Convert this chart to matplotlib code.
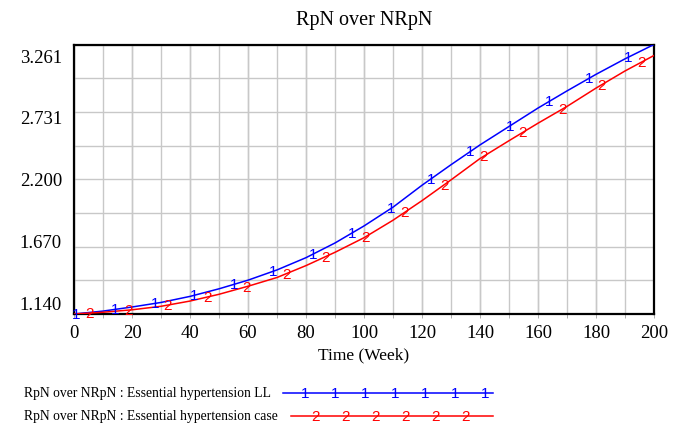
import numpy as np
import matplotlib.pyplot as plt
from matplotlib.lines import Line2D
from matplotlib.transforms import ScaledTranslation

# Simulation output, sampled every 10 weeks
weeks = np.arange(0, 201, 10)
rpn_ll = [1.140, 1.165, 1.200, 1.239, 1.291, 1.356, 1.430, 1.518, 1.623, 1.749, 1.895,
          2.056, 2.244, 2.420, 2.590, 2.748, 2.906, 3.053, 3.195, 3.328, 3.451]
rpn_case = [1.140, 1.155, 1.176, 1.206, 1.251, 1.309, 1.378, 1.453, 1.555, 1.669, 1.794,
            1.944, 2.112, 2.290, 2.473, 2.626, 2.776, 2.920, 3.077, 3.224, 3.357]

series_names = ["RpN over NRpN : Essential hypertension LL",
                "RpN over NRpN : Essential hypertension case"]
series_colors = ["#0000ff", "#ff0000"]
series_tags = ["1", "2"]

y_tick_values = [1.140, 1.670, 2.200, 2.731, 3.261]
y_tick_labels = ["1.140", "1.670", "2.200", "2.731", "3.261"]
x_tick_values = np.arange(0, 201, 20)

SERIF = "Liberation Serif"
SANS = "Liberation Sans"

W, H = 686, 431
fig = plt.figure(figsize=(W / 100, H / 100), dpi=100)
fig.patch.set_facecolor("white")
ax = fig.add_axes([74 / W, 1 - 315 / H, 580 / W, 269.5 / H])

y_lo, y_hi = min(rpn_ll + rpn_case), max(rpn_ll + rpn_case)
ax.set_xlim(0, 200)
ax.set_ylim(y_lo, y_hi)

# grid: every 10 weeks across, eight bands up the value axis
ax.set_xticks(x_tick_values)
ax.set_xticklabels([str(v) for v in x_tick_values], family=SERIF, fontsize=13.5)
ax.set_xticks(np.arange(0, 201, 10), minor=True)
ax.xaxis.remove_overlapping_locs = False
ax.set_yticks([])
ax.set_yticks(np.linspace(y_lo, y_hi, 9), minor=True)
ax.grid(which="both", axis="x", color="#c8c8c8", lw=1.0)
ax.grid(which="minor", axis="y", color="#c8c8c8", lw=1.0)
ax.tick_params(axis="x", which="major", length=0, pad=7)
ax.tick_params(axis="x", which="minor", length=3, color="#a0a0a0", direction="out")
ax.tick_params(axis="y", which="minor", length=0)
ax.set_axisbelow(True)
for sp in ax.spines.values():
    sp.set_linewidth(1.6)
    sp.set_color("black")

# value labels sit just above their level
lab_tf = ax.get_yaxis_transform() + ScaledTranslation(-0.12, 0.095, fig.dpi_scale_trans)
for v, s in zip(y_tick_values, y_tick_labels):
    ax.text(0, v, s, transform=lab_tf, ha="right", va="center",
            family=SERIF, fontsize=13.5)

ax.set_title("RpN over NRpN", family=SERIF, fontsize=14.5, pad=15)
ax.set_xlabel("Time (Week)", family=SERIF, fontsize=12.5, labelpad=4)

series = [rpn_ll, rpn_case]
tag_starts = [0.7, 5.2]
for vals, color, tag, t0 in zip(series, series_colors, series_tags, tag_starts):
    ax.plot(weeks, vals, color=color, lw=1.1, zorder=3)
    tag_t = np.arange(t0, 200, 13.6)
    tag_v = np.interp(tag_t, weeks, vals)
    for t, v in zip(tag_t, tag_v):
        ax.text(t, v, tag, color=color, family=SANS, fontsize=11,
                ha="center", va="center", zorder=4, clip_on=False)

# legend block under the axes
leg_rows = [(394, 283, 305), (417, 291, 315)]
for name, color, tag, (ypx, x0, xt0) in zip(series_names, series_colors, series_tags, leg_rows):
    yf = 1 - ypx / H
    fig.text(24 / W, yf, name, family=SERIF, fontsize=9.8, ha="left", va="center")
    fig.add_artist(Line2D([x0 / W, 493 / W], [yf, yf], color=color, lw=1.1,
                          transform=fig.transFigure))
    for xp in np.arange(xt0, 490, 30):
        fig.text(xp / W, yf, tag, color=color, family=SANS, fontsize=11,
                 ha="center", va="center")

fig.savefig("out.png", dpi=100)
